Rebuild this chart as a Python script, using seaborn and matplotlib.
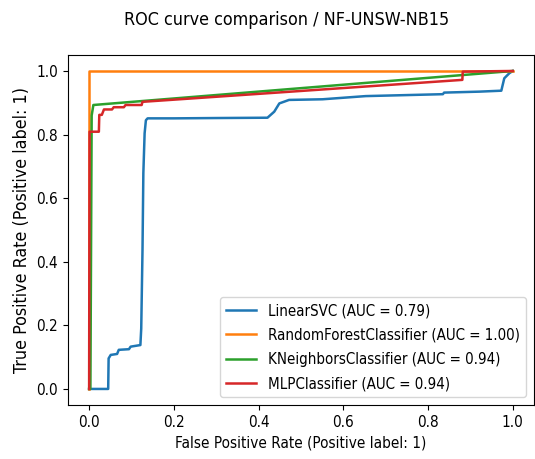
import matplotlib
matplotlib.use("Agg")
import matplotlib.pyplot as plt
import seaborn as sns
import pandas as pd

# ROC points (fpr, tpr)
svc_fpr = [0.0, 0.045, 0.046, 0.051, 0.066, 0.070, 0.094, 0.098, 0.121, 0.123, 0.126, 0.128, 0.131, 0.134, 0.138,
           0.20, 0.30, 0.421, 0.437, 0.449, 0.472, 0.551, 0.653, 0.835, 0.838, 0.921, 0.973, 0.980, 0.992, 1.0]
svc_tpr = [0.0, 0.0, 0.096, 0.107, 0.110, 0.123, 0.125, 0.133, 0.138, 0.19, 0.437, 0.679, 0.804, 0.845, 0.851,
           0.851, 0.852, 0.853, 0.872, 0.898, 0.909, 0.911, 0.921, 0.927, 0.932, 0.935, 0.938, 0.977, 0.993, 1.0]

rf_fpr = [0.0, 0.0, 1.0]
rf_tpr = [0.0, 1.0, 1.0]

knn_fpr = [0.0, 0.003, 0.006, 0.010, 1.0]
knn_tpr = [0.0, 0.0, 0.86, 0.893, 1.0]

mlp_fpr = [0.0, 0.001, 0.023, 0.024, 0.030, 0.035, 0.054, 0.058, 0.082, 0.086, 0.124, 0.126, 0.881, 0.882, 1.0]
mlp_tpr = [0.0, 0.809, 0.809, 0.862, 0.862, 0.879, 0.879, 0.886, 0.886, 0.893, 0.893, 0.903, 0.972, 0.998, 1.0]

labels = ["LinearSVC (AUC = 0.79)", "RandomForestClassifier (AUC = 1.00)",
          "KNeighborsClassifier (AUC = 0.94)", "MLPClassifier (AUC = 0.94)"]

curves = [(svc_fpr, svc_tpr), (rf_fpr, rf_tpr), (knn_fpr, knn_tpr), (mlp_fpr, mlp_tpr)]
frames = []
for lab, (f, t) in zip(labels, curves):
    frames.append(pd.DataFrame({"fpr": f, "tpr": t, "model": lab}))
df = pd.concat(frames, ignore_index=True)

# narrow, tall-looking text like the reference
plt.rcParams['font.family'] = ['DejaVu Sans']
plt.rcParams['font.stretch'] = 'condensed'
plt.rcParams['font.size'] = 11

fig, ax = plt.subplots(figsize=(5.35, 4.59), dpi=100)
fig.subplots_adjust(left=0.127, right=0.998, top=0.880, bottom=0.118)

sns.lineplot(data=df, x="fpr", y="tpr", hue="model", palette="tab10", sort=False,
             estimator=None, units="model", linewidth=1.8, ax=ax)

ax.set_xlim(-0.05, 1.05)
ax.set_ylim(-0.05, 1.05)
ax.set_xticks([0.0, 0.2, 0.4, 0.6, 0.8, 1.0])
ax.set_yticks([0.0, 0.2, 0.4, 0.6, 0.8, 1.0])
ax.tick_params(labelsize=11)
ax.set_xlabel("False Positive Rate (Positive label: 1)", fontsize=11)
ax.set_ylabel("True Positive Rate (Positive label: 1)", fontsize=12.8)
ax.legend(loc="lower right", title=None, fontsize=10.8, labelspacing=0.62)
fig.suptitle("ROC curve comparison / NF-UNSW-NB15", x=287 / 535, y=0.975, fontsize=12.9)

fig.savefig("out.png", dpi=100)
